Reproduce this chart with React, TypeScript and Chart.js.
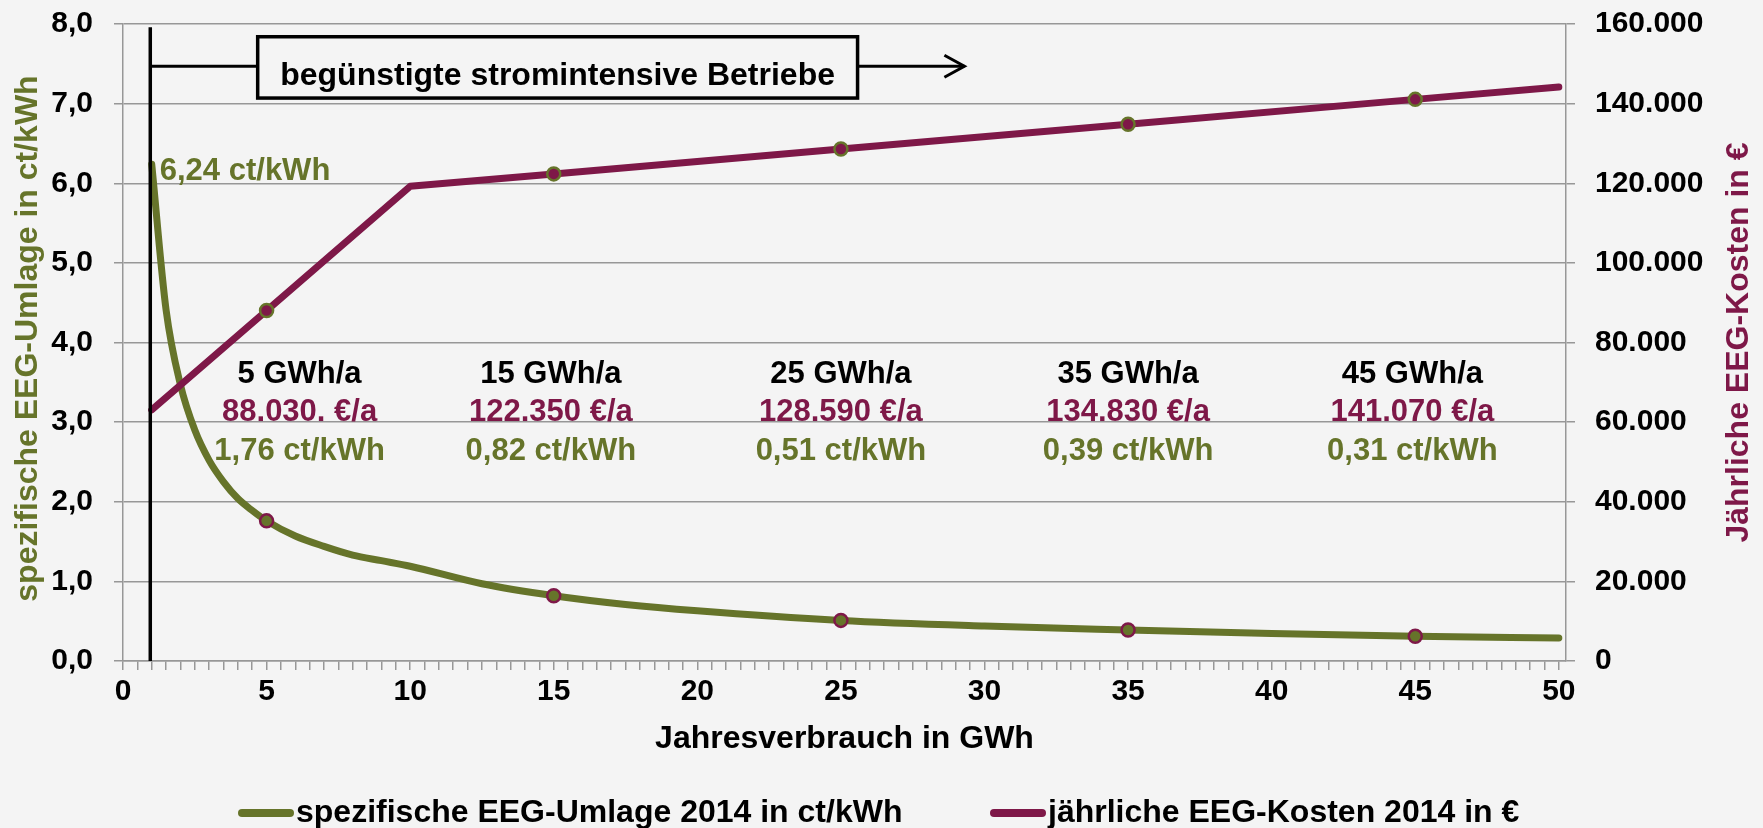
import React, { useEffect, useRef } from 'react';
import { Chart, registerables } from 'chart.js';

Chart.register(...registerables);

const OLIVE = '#66742a';
const PURPLE = '#7e1848';
const BG = '#f4f4f4';
const GRID = '#979797';
const FONT = '"Liberation Sans", Arial, sans-serif';

// spezifische EEG-Umlage 2014 (ct/kWh) over Jahresverbrauch (GWh)
const umlageX = [1, 1.5, 2, 2.5, 3, 3.5, 4, 4.5, 5, 6, 7, 8, 9, 10, 12.5, 15, 17.5, 20, 25, 30, 35, 40, 45, 50];
const umlageY = [6.24, 4.41, 3.47, 2.9, 2.52, 2.25, 2.04, 1.89, 1.76, 1.57, 1.44, 1.33, 1.26, 1.19, 0.97, 0.82, 0.71, 0.63, 0.51, 0.44, 0.39, 0.345, 0.31, 0.29];

// jährliche EEG-Kosten 2014 (€)
const kostenX = [1, 5, 10, 15, 25, 35, 45, 50];
const kostenY = [63070, 88030, 119230, 122350, 128590, 134830, 141070, 144190];

const markerX = [5, 15, 25, 35, 45];

const annX = [6.15, 14.9, 25, 35, 44.9];
const annGWh = ['5 GWh/a', '15 GWh/a', '25 GWh/a', '35 GWh/a', '45 GWh/a'];
const annEuro = ['88.030. €/a', '122.350 €/a', '128.590 €/a', '134.830 €/a', '141.070 €/a'];
const annCt = ['1,76 ct/kWh', '0,82 ct/kWh', '0,51 ct/kWh', '0,39 ct/kWh', '0,31 ct/kWh'];

const legendLabels = ['spezifische EEG-Umlage 2014 in ct/kWh', 'jährliche EEG-Kosten 2014 in €'];
const xTitle = 'Jahresverbrauch in GWh';
const yTitle = 'spezifische EEG-Umlage in ct/kWh';
const y2Title = 'Jährliche EEG-Kosten in €';
const boxText = 'begünstigte stromintensive Betriebe';
const startLabel = '6,24 ct/kWh';

const X_MIN = 0;
const X_MAX = 50.25;
const X_MAJOR = 5;
const X_MINOR_COUNT = 100; // ticks every 0.5
const Y_MAX = 8;
const Y2_MAX = 160000;

function formatThousands(v: number): string {
  const s = String(Math.round(v));
  return s.replace(/\B(?=(\d{3})+(?!\d))/g, '.');
}

const overlayPlugin = {
  id: 'overlay',
  beforeDraw(chart: any) {
    const ctx = chart.ctx;
    ctx.save();
    ctx.fillStyle = BG;
    ctx.fillRect(0, 0, chart.width, chart.height);
    ctx.restore();
  },
  afterDatasetsDraw(chart: any) {
    const ctx = chart.ctx;
    const xs = chart.scales.x;
    const ys = chart.scales.y;
    const px = (v: number) => xs.getPixelForValue(v);
    const py = (v: number) => ys.getPixelForValue(v);
    ctx.save();

    // vertical threshold line at 1 GWh
    ctx.strokeStyle = '#000';
    ctx.lineWidth = 3.5;
    ctx.beginPath();
    ctx.moveTo(px(0.95), py(7.96));
    ctx.lineTo(px(0.95), chart.chartArea.bottom);
    ctx.stroke();

    // connector + box + arrow
    const bl = px(4.69), br = px(25.58), bt = py(7.84), bb = py(7.07), cy = py(7.47);
    ctx.lineWidth = 3;
    ctx.beginPath();
    ctx.moveTo(px(0.95), cy);
    ctx.lineTo(bl, cy);
    ctx.moveTo(br, cy);
    ctx.lineTo(px(29.3), cy);
    ctx.stroke();
    ctx.beginPath();
    ctx.moveTo(px(29.3) - 20, cy - 11);
    ctx.lineTo(px(29.3), cy);
    ctx.lineTo(px(29.3) - 20, cy + 11);
    ctx.stroke();
    ctx.lineWidth = 3.5;
    ctx.fillStyle = BG;
    ctx.fillRect(bl, bt, br - bl, bb - bt);
    ctx.strokeRect(bl, bt, br - bl, bb - bt);
    ctx.fillStyle = '#000';
    ctx.font = `bold 32px ${FONT}`;
    ctx.textAlign = 'center';
    ctx.textBaseline = 'alphabetic';
    ctx.fillText(boxText, (bl + br) / 2, py(7.24));

    // start value label
    ctx.textAlign = 'left';
    ctx.font = `bold 31px ${FONT}`;
    ctx.fillStyle = OLIVE;
    ctx.fillText(startLabel, px(1.28), py(6.04));

    // annotation blocks
    ctx.textAlign = 'center';
    for (let i = 0; i < annX.length; i++) {
      const x = px(annX[i]);
      ctx.fillStyle = '#000';
      ctx.fillText(annGWh[i], x, py(3.49));
      ctx.fillStyle = PURPLE;
      ctx.fillText(annEuro[i], x, py(3.01));
      ctx.fillStyle = OLIVE;
      ctx.fillText(annCt[i], x, py(2.52));
    }
    ctx.restore();
  },
  afterDraw(chart: any) {
    const ctx = chart.ctx;
    const ca = chart.chartArea;
    ctx.save();
    // x title
    ctx.fillStyle = '#000';
    ctx.font = `bold 32px ${FONT}`;
    ctx.textAlign = 'center';
    ctx.textBaseline = 'alphabetic';
    ctx.fillText(xTitle, (ca.left + ca.right) / 2, ca.bottom + 87);

    // legend
    const ly = ca.bottom + 152;
    const items = [
      { color: OLIVE, x0: 238, label: legendLabels[0] },
      { color: PURPLE, x0: 990, label: legendLabels[1] },
    ];
    items.forEach((it) => {
      ctx.strokeStyle = it.color;
      ctx.lineWidth = 8;
      ctx.lineCap = 'round';
      ctx.beginPath();
      ctx.moveTo(it.x0 + 4, ly);
      ctx.lineTo(it.x0 + 52, ly);
      ctx.stroke();
      ctx.fillStyle = '#000';
      ctx.textAlign = 'left';
      ctx.fillText(it.label, it.x0 + 58, ly + 9);
    });

    // rotated axis titles
    ctx.font = `bold 32px ${FONT}`;
    ctx.textAlign = 'center';
    ctx.save();
    ctx.translate(ca.left - 86, (ca.top + ca.bottom) / 2 - 4);
    ctx.rotate(-Math.PI / 2);
    ctx.fillStyle = OLIVE;
    ctx.fillText(yTitle, 0, 0);
    ctx.restore();
    ctx.save();
    ctx.translate(ca.right + 182, (ca.top + ca.bottom) / 2);
    ctx.rotate(-Math.PI / 2);
    ctx.fillStyle = PURPLE;
    ctx.fillText(y2Title, 0, 0);
    ctx.restore();
    ctx.restore();
  },
};

export default function App() {
  const canvasRef = useRef<HTMLCanvasElement | null>(null);

  useEffect(() => {
    document.body.style.margin = '0';
    document.body.style.background = BG;
    const canvas = canvasRef.current;
    if (!canvas) return;
    const tickFont = { family: FONT, weight: 'bold' as const, size: 30 };
    const isMarker = (ctx: any) => ctx.raw && markerX.includes(ctx.raw.x);

    const chart = new Chart(canvas, {
      type: 'line',
      data: {
        datasets: [
          {
            label: legendLabels[0],
            data: umlageX.map((x, i) => ({ x, y: umlageY[i] })),
            yAxisID: 'y',
            borderColor: OLIVE,
            backgroundColor: OLIVE,
            borderWidth: 7,
            borderCapStyle: 'round',
            borderJoinStyle: 'round',
            cubicInterpolationMode: 'monotone',
            pointRadius: (c: any) => (isMarker(c) ? 6.5 : 0),
            pointBackgroundColor: OLIVE,
            pointBorderColor: PURPLE,
            pointBorderWidth: 2.5,
            order: 1,
          },
          {
            label: legendLabels[1],
            data: kostenX.map((x, i) => ({ x, y: kostenY[i] })),
            yAxisID: 'y2',
            borderColor: PURPLE,
            backgroundColor: PURPLE,
            borderWidth: 7,
            borderCapStyle: 'round',
            borderJoinStyle: 'round',
            tension: 0,
            pointRadius: (c: any) => (isMarker(c) ? 6.5 : 0),
            pointBackgroundColor: PURPLE,
            pointBorderColor: OLIVE,
            pointBorderWidth: 2.5,
            order: 0,
          },
        ],
      },
      options: {
        animation: false,
        responsive: true,
        maintainAspectRatio: false,
        layout: { padding: { top: 24, left: 0, right: 0, bottom: 0 } },
        plugins: { legend: { display: false }, tooltip: { enabled: false } },
        scales: {
          x: {
            type: 'linear',
            min: X_MIN,
            max: X_MAX,
            afterBuildTicks: (s: any) => {
              const t = [];
              for (let k = 0; k <= X_MINOR_COUNT; k++) t.push({ value: k / 2 });
              s.ticks = t;
            },
            afterFit: (s: any) => {
              s.height = 167;
              s.paddingLeft = 0;
              s.paddingRight = 0;
            },
            ticks: {
              autoSkip: false,
              maxRotation: 0,
              minRotation: 0,
              padding: 4,
              color: '#000',
              font: tickFont,
              callback: (v: any) => (Number(v) % X_MAJOR === 0 ? String(v) : ''),
            },
            grid: { drawOnChartArea: false, tickLength: 9, color: GRID, lineWidth: 1.5 },
            border: { color: GRID, width: 1.5 },
          },
          y: {
            position: 'left',
            min: 0,
            max: Y_MAX,
            afterFit: (s: any) => {
              s.width = 123;
              s.paddingTop = 0;
              s.paddingBottom = 0;
            },
            ticks: {
              stepSize: 1,
              padding: 21,
              color: '#000',
              font: tickFont,
              callback: (v: any) => Number(v).toFixed(1).replace('.', ','),
            },
            grid: { color: GRID, lineWidth: 1.5, tickLength: 9 },
            border: { color: GRID, width: 1.5 },
          },
          y2: {
            position: 'right',
            min: 0,
            max: Y2_MAX,
            afterFit: (s: any) => {
              s.width = 197;
              s.paddingTop = 0;
              s.paddingBottom = 0;
            },
            ticks: {
              stepSize: 20000,
              padding: 20,
              color: '#000',
              font: tickFont,
              callback: (v: any) => formatThousands(Number(v)),
            },
            grid: { drawOnChartArea: false, color: GRID, lineWidth: 1.5, tickLength: 9 },
            border: { color: GRID, width: 1.5 },
          },
        },
      },
      plugins: [overlayPlugin],
    } as any);

    return () => chart.destroy();
  }, []);

  return (
    <div style={{ position: 'fixed', left: 0, top: 0, width: 1763, height: 828, background: BG }}>
      <canvas ref={canvasRef} />
    </div>
  );
}
